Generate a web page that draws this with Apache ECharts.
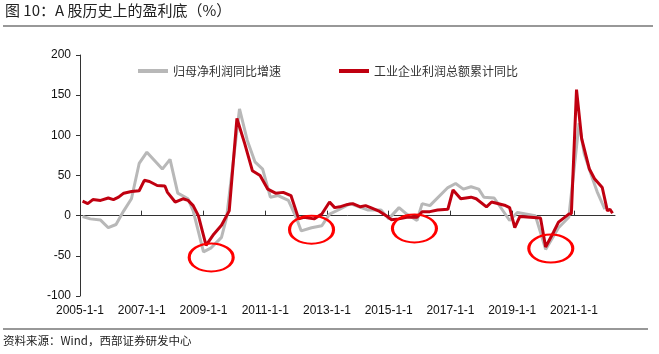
<!DOCTYPE html>
<html>
<head>
<meta charset="utf-8">
<script src="https://cdn.jsdelivr.net/npm/echarts@6/dist/echarts.min.js"></script>
<style>
  html, body { margin: 0; padding: 0; background: #fff; }
  #chart { width: 659px; height: 354px; }
</style>
</head>
<body>
<div id="chart"></div>
<script>
// net profit attributable to parent, yoy (%)
var grayDates = ['2005-02','2005-05','2005-09','2005-12','2006-03','2006-06','2006-09','2006-12',
  '2007-03','2007-09','2007-12','2008-03','2008-07','2008-09','2009-01','2009-04','2009-08','2009-10',
  '2010-03','2010-06','2010-09','2010-12','2011-03','2011-06','2011-10','2012-01','2012-03','2012-07',
  '2012-11','2013-02','2013-06','2013-10','2014-05','2014-10','2015-01','2015-05','2015-08','2015-12',
  '2016-02','2016-05','2016-12','2017-03','2017-06','2017-09','2017-12','2018-02','2018-06','2018-12',
  '2019-03','2019-10','2020-02','2020-07','2020-11','2021-03','2021-05','2021-08','2021-10','2022-01'];
var grayValues = [-1, -4, -5.5, -15, -11, 6, 21, 65,
  79, 58, 70, 28, 21, 6, -45, -40, -27, -2,
  133, 94, 67, 58, 23, 25, 19, -2, -19, -15,
  -12.5, 2, 8, 15, 7, 7, -4, 10, 2, -6,
  15, 12.5, 35, 40, 33, 36, 33, 23, 22, -6,
  4, 0, -42, -15, -2, 115, 77, 48, 30, 8];

// industrial enterprise profits, cumulative yoy (%)
var redDates = ['2005-02','2005-04','2005-06','2005-09','2005-12','2006-02','2006-04','2006-06','2006-09','2006-12',
  '2007-02','2007-04','2007-07','2007-10','2007-11','2008-02','2008-05','2008-07','2008-09','2008-11',
  '2009-02','2009-05','2009-08','2009-11','2010-02','2010-05','2010-08','2010-11','2011-02','2011-05',
  '2011-08','2011-11','2012-02','2012-04','2012-08','2012-11','2013-02','2013-04','2013-06','2013-09',
  '2013-11','2014-02','2014-04','2014-06','2014-09','2014-12','2015-02','2015-05','2015-08','2015-12',
  '2016-02','2016-05','2016-08','2016-12','2017-02','2017-05','2017-09','2017-11','2018-03','2018-05',
  '2018-10','2018-12','2019-02','2019-04','2019-08','2019-12','2020-02','2020-05','2020-07','2020-11',
  '2020-12','2021-02','2021-04','2021-07','2021-09','2021-12','2022-02','2022-03','2022-04'];
var redValues = [18, 15, 20, 19, 22, 20, 23, 28, 30, 31,
  44, 42.5, 37.5, 37, 29, 17, 21, 19, 12.5, 0,
  -37, -23, -12, 6, 121, 90, 56, 50, 33, 28,
  29, 25, -4, -2, -4, 2, 17, 10, 11, 14,
  15, 11, 12.5, 10, 6, 0, -5, -4, -2, -2,
  5, 5, 7, 8, 32, 21, 23, 21, 11, 17,
  13, 10, -15, -1, -2, -3, -39, -21, -8, 2,
  2.4, 157, 96, 58, 46, 35, 6, 8, 3];

// circled profit troughs
var troughs = [['2009-04', -52], ['2012-07', -17.5], ['2015-11', -16], ['2020-04', -41]];

var yearTicks = [2005, 2007, 2009, 2011, 2013, 2015, 2017, 2019, 2021];

function toYear(s) {
  var p = s.split('-');
  return +p[0] + (+p[1] - 1) / 12;
}
function pairs(dates, values) {
  return dates.map(function (d, i) { return [toYear(d), values[i]]; });
}

var myChart = echarts.init(document.getElementById('chart'));

var option = {
  backgroundColor: '#fff',
  animation: false,
  textStyle: { fontFamily: 'Liberation Sans, Arial, sans-serif' },
  graphic: [
    {
      type: 'text', left: 5, top: 3,
      style: { text: '图 10：A 股历史上的盈利底（%）', fontSize: 15, fill: '#222',
        fontFamily: 'Noto Sans CJK SC' }
    },
    { type: 'line', shape: { x1: 3, y1: 26, x2: 653, y2: 26 }, style: { stroke: '#333', lineWidth: 1.2 } },
    { type: 'line', shape: { x1: 3, y1: 329, x2: 648, y2: 329 }, style: { stroke: '#333', lineWidth: 1.2 } },
    {
      type: 'text', left: 3, top: 335,
      style: { text: '资料来源：Wind，西部证券研发中心', fontSize: 11.5, fill: '#222',
        fontFamily: 'Noto Sans CJK SC' }
    }
  ],
  legend: {
    left: 133,
    top: 60,
    icon: 'rect',
    itemWidth: 30,
    itemHeight: 4,
    itemGap: 58,
    textStyle: { fontSize: 12, color: '#333', fontFamily: 'Noto Sans CJK SC' },
    data: ['归母净利润同比增速', '工业企业利润总额累计同比']
  },
  grid: { left: 80, right: 44, top: 55, bottom: 58, containLabel: false, outerBoundsMode: 'none' },
  xAxis: [
    {
      // zero line with inward ticks
      type: 'value',
      min: 2005,
      max: 2022.33,
      interval: 2,
      splitLine: { show: false },
      axisLine: { onZero: true, lineStyle: { color: '#333', width: 1 } },
      axisTick: { show: true, inside: true, length: 5, customValues: yearTicks, lineStyle: { color: '#333' } },
      axisLabel: { show: false }
    },
    {
      // date labels along the bottom
      type: 'value',
      position: 'bottom',
      min: 2005,
      max: 2022.33,
      interval: 2,
      splitLine: { show: false },
      axisLine: { show: false, onZero: false },
      axisTick: { show: false },
      axisLabel: {
        margin: 9,
        fontSize: 12,
        color: '#111',
        customValues: yearTicks,
        formatter: function (v) { return Math.round(v) + '-1-1'; }
      }
    }
  ],
  yAxis: {
    type: 'value',
    min: -100,
    max: 200,
    interval: 50,
    splitLine: { show: false },
    axisLine: { show: true, lineStyle: { color: '#333', width: 1 } },
    axisTick: { show: true, length: 4, lineStyle: { color: '#333' } },
    axisLabel: { margin: 9, fontSize: 12, color: '#111' }
  },
  series: [
    {
      name: '归母净利润同比增速',
      type: 'line',
      xAxisIndex: 0,
      data: pairs(grayDates, grayValues),
      symbol: 'none',
      color: '#b8b8b8',
      lineStyle: { width: 3, color: '#b8b8b8' },
      markPoint: {
        symbol: 'circle',
        symbolSize: [44, 28],
        silent: true,
        label: { show: false },
        itemStyle: { color: 'rgba(0,0,0,0)', borderColor: '#ff0000', borderWidth: 2.5 },
        data: troughs.map(function (t) { return { coord: [toYear(t[0]), t[1]] }; })
      }
    },
    {
      name: '工业企业利润总额累计同比',
      type: 'line',
      xAxisIndex: 0,
      data: pairs(redDates, redValues),
      symbol: 'none',
      color: '#c00010',
      lineStyle: { width: 3, color: '#c00010' }
    }
  ]
};
myChart.setOption(option);
</script>
</body>
</html>
